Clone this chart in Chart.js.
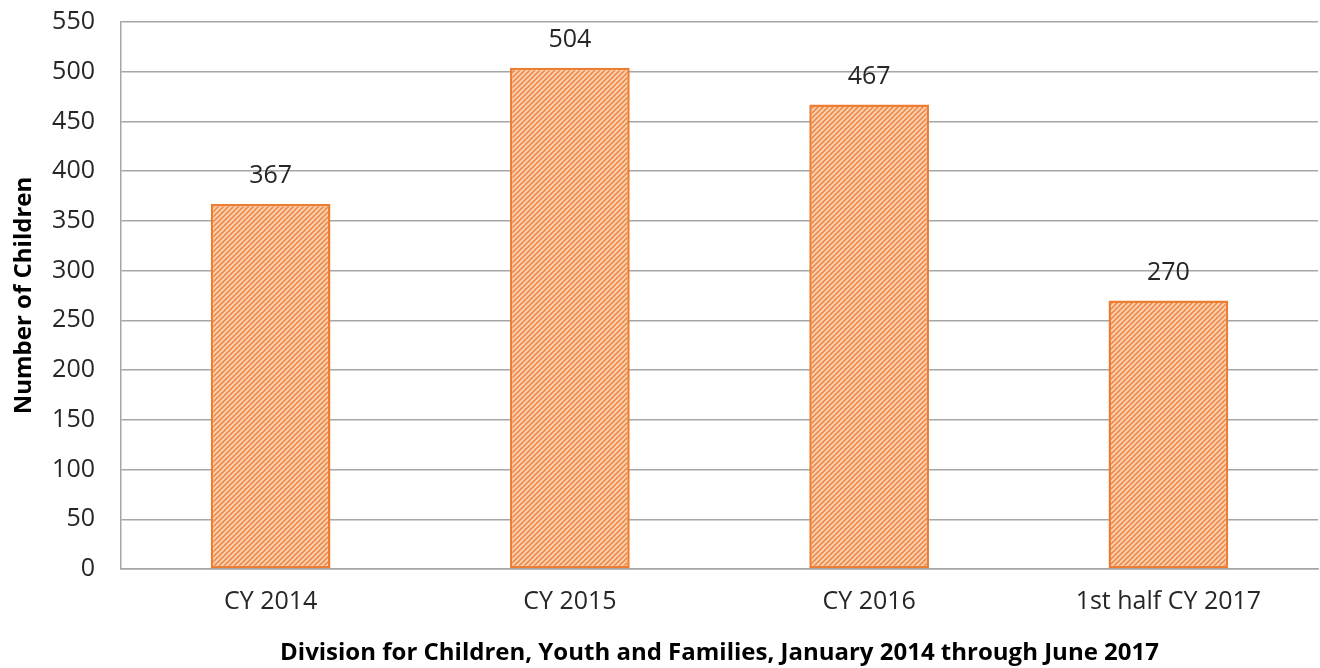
<!DOCTYPE html>
<html>
<head>
<meta charset="utf-8">
<script src="https://cdn.jsdelivr.net/npm/chart.js@4.4.1/dist/chart.umd.min.js"></script>
<style>
  html, body { margin: 0; padding: 0; background: #ffffff; }
  #wrap { width: 1320px; height: 668px; position: relative; }
</style>
</head>
<body>
<div id="wrap"><canvas id="chart" width="1320" height="668"></canvas></div>
<script>
// Children counts by period
const categories = ['CY 2014', 'CY 2015', 'CY 2016', '1st half CY 2017'];
const childCounts = [367, 504, 467, 270];
const yTickMax = 550;
const yTickStep = 50;

const FONT = '"Open Sans", Lato, "Liberation Sans", sans-serif';
const ORANGE = '#ED7D31';

// Diagonal hatch fill for the bars
function makeHatch() {
  const size = 5;
  const c = document.createElement('canvas');
  c.width = size; c.height = size;
  const g = c.getContext('2d');
  g.fillStyle = '#FAD3B8';
  g.fillRect(0, 0, size, size);
  g.strokeStyle = '#EF8B46';
  g.lineWidth = 1.6;
  g.beginPath();
  g.moveTo(-1, size + 1); g.lineTo(size + 1, -1);
  g.moveTo(-1, 1); g.lineTo(1, -1);
  g.moveTo(size - 1, size + 1); g.lineTo(size + 1, size - 1);
  g.stroke();
  return g.createPattern(c, 'repeat');
}

// Value labels above each bar
const valueLabels = {
  id: 'valueLabels',
  afterDatasetsDraw(chart) {
    const ctx = chart.ctx;
    const meta = chart.getDatasetMeta(0);
    ctx.save();
    ctx.font = '25px ' + FONT;
    ctx.fillStyle = '#262626';
    ctx.textAlign = 'center';
    ctx.textBaseline = 'middle';
    meta.data.forEach((bar, i) => {
      ctx.fillText(String(chart.data.datasets[0].data[i]), bar.x, bar.y - 28);
    });
    ctx.restore();
  }
};

new Chart(document.getElementById('chart'), {
  type: 'bar',
  data: {
    labels: categories,
    datasets: [{
      data: childCounts,
      backgroundColor: makeHatch(),
      borderColor: ORANGE,
      borderWidth: 2.5,
      borderSkipped: false,
      barPercentage: 0.8,
      categoryPercentage: 0.5
    }]
  },
  options: {
    responsive: false,
    animation: false,
    layout: { padding: { top: 22, right: 2, left: 0, bottom: 0 } },
    plugins: {
      legend: { display: false },
      tooltip: { enabled: false }
    },
    scales: {
      x: {
        grid: { display: false, drawTicks: false },
        border: { display: true, color: '#A6A6A6', width: 1.5 },
        ticks: { color: '#262626', font: { family: FONT, size: 25 }, padding: 18 },
        title: {
          display: true,
          text: 'Division for Children, Youth and Families, January 2014 through June 2017',
          color: '#000000',
          font: { family: FONT, size: 24, weight: 'bold' },
          padding: { top: 14, bottom: 0 }
        },
        afterFit(scale) { scale.height = 99; scale.paddingLeft = 0; scale.paddingRight = 0; }
      },
      y: {
        min: 0,
        max: yTickMax,
        grid: { color: '#A6A6A6', lineWidth: 1.5, drawTicks: false },
        border: { display: true, color: '#A6A6A6', width: 1.5 },
        ticks: {
          stepSize: yTickStep,
          color: '#262626',
          font: { family: FONT, size: 25 },
          padding: 26
        },
        title: {
          display: true,
          text: 'Number of Children',
          color: '#000000',
          font: { family: FONT, size: 24, weight: 'bold' },
          padding: { top: 10, bottom: 0 }
        },
        afterFit(scale) { scale.width = 121; scale.paddingTop = 0; scale.paddingBottom = 0; }
      }
    }
  },
  plugins: [valueLabels]
});
</script>
</body>
</html>
